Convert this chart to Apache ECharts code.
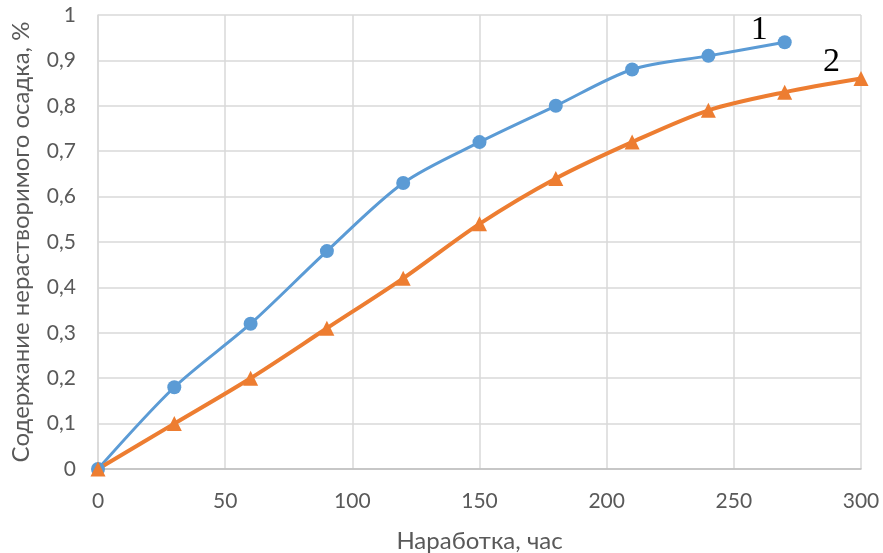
<!DOCTYPE html>
<html><head><meta charset="utf-8">
<script src="https://cdn.jsdelivr.net/npm/echarts@6/dist/echarts.min.js"></script>
<style>html,body{margin:0;padding:0;background:#fff}#c{width:883px;height:553px}</style>
</head><body><div id="c"></div>
<script>
const hours1 = [0, 30, 60, 90, 120, 150, 180, 210, 240, 270];
const values1 = [0, 0.18, 0.32, 0.48, 0.63, 0.72, 0.80, 0.88, 0.91, 0.94];
const hours2 = [0, 30, 60, 90, 120, 150, 180, 210, 240, 270, 300];
const values2 = [0, 0.10, 0.20, 0.31, 0.42, 0.54, 0.64, 0.72, 0.79, 0.83, 0.86];
const xTitle = 'Наработка, час';
const yTitle = 'Содержание нерастворимого осадка, %';
const seriesNames = ['1', '2'];

const chart = echarts.init(document.getElementById('c'));
const fmt = v => String(v).replace('.', ',');
const FF = 'Lato, "Open Sans", sans-serif';
chart.setOption({
  animation: false,
  grid: {left: 98, right: 22, top: 15, bottom: 84, outerBoundsMode: 'none', containLabel: false},
  xAxis: {
    type: 'value', min: 0, max: 300, interval: 50,
    name: xTitle, nameLocation: 'middle', nameGap: 60,
    nameTextStyle: {fontFamily: FF, fontSize: 24, color: '#595959'},
    axisLine: {show: true, lineStyle: {color: '#bfbfbf', width: 1.5}},
    axisTick: {show: false},
    axisLabel: {fontFamily: FF, fontSize: 21, color: '#595959', margin: 22},
    splitLine: {show: true, lineStyle: {color: '#d9d9d9', width: 1.5}}
  },
  yAxis: {
    type: 'value', min: 0, max: 1, interval: 0.1,
    name: yTitle, nameLocation: 'middle', nameGap: 65,
    nameTextStyle: {fontFamily: FF, fontSize: 24, color: '#595959'},
    axisLine: {show: true, lineStyle: {color: '#d9d9d9', width: 1.5}},
    axisTick: {show: false},
    axisLabel: {fontFamily: FF, fontSize: 21, color: '#595959', margin: 22, formatter: v => fmt(Math.round(v*10)/10)},
    splitLine: {show: true, lineStyle: {color: '#d9d9d9', width: 1.5}}
  },
  series: [
    {
      name: seriesNames[0], type: 'line', smooth: 0.3,
      data: hours1.map((h, i) => [h, values1[i]]),
      symbol: 'circle', symbolSize: 14,
      lineStyle: {color: '#5b9bd5', width: 3},
      itemStyle: {color: '#5b9bd5'},
      endLabel: {show: true, formatter: '1', offset: [-42, -12], fontFamily: '"Liberation Serif", serif', fontSize: 34, color: '#000'}
    },
    {
      name: seriesNames[1], type: 'line', smooth: 0.3,
      data: hours2.map((h, i) => [h, values2[i]]),
      symbol: 'triangle', symbolSize: 15,
      lineStyle: {color: '#ed7d31', width: 4},
      itemStyle: {color: '#ed7d31'},
      endLabel: {show: true, formatter: '2', offset: [-46, -16], fontFamily: '"Liberation Serif", serif', fontSize: 34, color: '#000'}
    }
  ]
});
</script></body></html>
